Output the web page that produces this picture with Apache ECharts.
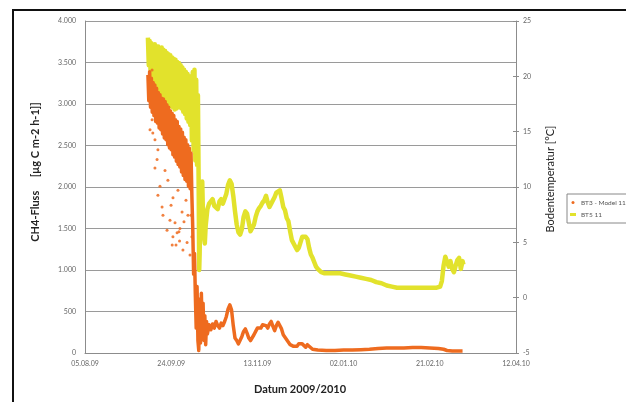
<!DOCTYPE html>
<html>
<head>
<meta charset="utf-8">
<script src="https://cdn.jsdelivr.net/npm/echarts@6/dist/echarts.min.js"></script>
<style>
  html, body { margin: 0; padding: 0; background: #fff; }
  #chart { width: 626px; height: 402px; }
</style>
</head>
<body>
<div id="chart"></div>
<script>
// Zeitachse: Tage ab 05.08.09, Ticks alle 50 Tage
const axisStart = '05.08.09';
const axisEnd = '12.04.10';
const tickDays = 50;

// Linke Achse: CH4-Fluss [µg C m-2 h-1]
const fluxMin = 0, fluxMax = 4000, fluxStep = 500;
// Rechte Achse: Bodentemperatur [°C]
const tempMin = -5, tempMax = 25, tempStep = 5;

const seriesFluxName = 'BT3 - Model 11';
const seriesTempName = 'BT5 11';

// Bodentemperatur (Datum, °C)
const bodentemperatur = [
  ['10.09.09 12',23.5],['11.09.09 00',21.0],['11.09.09 12',23.2],['12.09.09 00',20.6],['12.09.09 12',23.0],
  ['13.09.09 00',20.1],['13.09.09 12',22.8],['14.09.09 00',19.7],['14.09.09 12',22.9],['15.09.09 00',19.4],
  ['15.09.09 12',22.7],['16.09.09 00',19.2],['16.09.09 12',22.7],['17.09.09 00',18.8],['17.09.09 12',22.5],
  ['18.09.09 00',18.3],['18.09.09 12',22.6],['19.09.09 00',18.1],['19.09.09 12',22.4],['20.09.09 00',17.9],
  ['20.09.09 12',22.3],['21.09.09 00',17.7],['21.09.09 12',22.1],['22.09.09 00',17.6],['22.09.09 12',22.0],
  ['23.09.09 00',17.4],['23.09.09 12',21.9],['24.09.09 00',17.3],['24.09.09 12',21.7],['25.09.09 00',17.2],
  ['25.09.09 12',21.6],['26.09.09 00',17.0],['26.09.09 12',21.5],['27.09.09 00',17.1],['27.09.09 12',21.3],
  ['28.09.09 00',17.3],['28.09.09 12',21.2],['29.09.09 00',17.2],['29.09.09 12',21.0],['30.09.09 00',17.1],
  ['30.09.09 12',20.8],['01.10.09 00',16.8],['01.10.09 12',20.6],['02.10.09 00',16.6],['02.10.09 12',20.4],
  ['03.10.09 00',16.2],['03.10.09 12',20.2],['04.10.09 00',15.9],['04.10.09 12',20.0],['05.10.09 00',15.6],
  ['05.10.09 12',19.8],['06.10.09 00',14.2],['06.10.09 12',20.4],['07.10.09 00',13.3],['07.10.09 12',20.6],
  ['08.10.09 00',12.4],['08.10.09 12',19.7],['09.10.09 00',12.0],['09.10.09 12',18.3],['10.10.09 00',8.8],
  ['10.10.09 06',2.5],['10.10.09 12',4.0],['11.10.09 00',9.5],['11.10.09 12',6.0],['12.10.09 00',10.5],
  ['12.10.09 12',7.0],['13.10.09 00',5.5],['13.10.09 12',4.9],['14.10.09 00',6.5],['15.10.09',8.0],
  ['16.10.09',8.5],['17.10.09',8.6],['18.10.09',8.9],['19.10.09',8.3],['20.10.09',8.4],
  ['21.10.09',8.0],['22.10.09',8.7],['23.10.09',8.9],['24.10.09',8.5],['25.10.09',8.6],
  ['26.10.09',9.4],['27.10.09',10.2],['28.10.09',10.6],['29.10.09',10.3],['30.10.09',9.2],
  ['31.10.09',7.8],['01.11.09',6.6],['02.11.09',5.9],['03.11.09',5.7],['04.11.09',6.2],
  ['05.11.09',7.3],['06.11.09',7.8],['07.11.09',7.6],['08.11.09',6.8],['09.11.09',6.0],
  ['10.11.09',5.9],['11.11.09',6.6],['12.11.09',7.3],['13.11.09',7.8],['14.11.09',8.1],
  ['15.11.09',8.3],['16.11.09',8.6],['17.11.09',8.8],['18.11.09',9.2],['19.11.09',8.6],
  ['20.11.09',8.2],['21.11.09',8.5],['22.11.09',8.6],['23.11.09',9.1],['24.11.09',9.5],
  ['25.11.09',9.6],['26.11.09',9.7],['27.11.09',9.0],['28.11.09',8.2],['29.11.09',7.9],
  ['30.11.09',7.2],['01.12.09',6.9],['02.12.09',6.0],['03.12.09',5.2],['04.12.09',4.9],
  ['05.12.09',4.6],['06.12.09',4.3],['07.12.09',4.5],['08.12.09',5.0],['09.12.09',5.5],
  ['10.12.09',5.6],['11.12.09',5.5],['12.12.09',5.3],['13.12.09',4.5],['14.12.09',3.9],
  ['15.12.09',3.6],['16.12.09',3.2],['17.12.09',2.8],['18.12.09',2.6],['20.12.09',2.3],
  ['22.12.09',2.2],['25.12.09',2.2],['28.12.09',2.2],['31.12.09',2.2],['03.01.10',2.1],
  ['06.01.10',2.0],['09.01.10',1.9],['12.01.10',1.8],['15.01.10',1.7],['18.01.10',1.6],
  ['21.01.10',1.4],['24.01.10',1.3],['27.01.10',1.1],['30.01.10',1.0],['02.02.10',0.9],
  ['06.02.10',0.9],['11.02.10',0.9],['16.02.10',0.9],['21.02.10',0.9],['25.02.10',0.9],
  ['27.02.10',1.0],['28.02.10',1.5],['01.03.10',2.9],['02.03.10',3.7],['03.03.10',3.8],
  ['04.03.10',2.8],['05.03.10',3.3],['06.03.10',2.6],['07.03.10',2.3],['08.03.10',2.9],
  ['09.03.10',3.4],['10.03.10',3.6],['11.03.10',2.6],['12.03.10',3.3],['12.03.10 12',3.0]
];

// CH4-Fluss (Datum, µg C m-2 h-1)
const ch4Fluss = [
  ['10.09.09 12',3350],['11.09.09 00',3040],['11.09.09 12',3390],['12.09.09 00',2960],['12.09.09 12',3310],
  ['13.09.09 00',2900],['13.09.09 12',3260],['14.09.09 00',2860],['14.09.09 12',3230],['15.09.09 00',2790],
  ['15.09.09 12',3190],['16.09.09 00',2770],['16.09.09 12',3140],['17.09.09 00',2710],['17.09.09 12',3110],
  ['18.09.09 00',2690],['18.09.09 12',3070],['19.09.09 00',2640],['19.09.09 12',3060],['20.09.09 00',2590],
  ['20.09.09 12',3030],['21.09.09 00',2570],['21.09.09 12',2990],['22.09.09 00',2510],['22.09.09 12',2960],
  ['23.09.09 00',2470],['23.09.09 12',2920],['24.09.09 00',2450],['24.09.09 12',2890],['25.09.09 00',2390],
  ['25.09.09 12',2860],['26.09.09 00',2360],['26.09.09 12',2810],['27.09.09 00',2310],['27.09.09 12',2790],
  ['28.09.09 00',2270],['28.09.09 12',2730],['29.09.09 00',2240],['29.09.09 12',2700],['30.09.09 00',2180],
  ['30.09.09 12',2660],['01.10.09 00',2140],['01.10.09 12',2600],['02.10.09 00',2090],['02.10.09 12',2570],
  ['03.10.09 00',2070],['03.10.09 12',2510],['04.10.09 00',2010],['04.10.09 12',2470],['05.10.09 00',1980],
  ['05.10.09 12',2410],['06.10.09 00',1890],['06.10.09 12',1500],['07.10.09 00',950],['07.10.09 12',1200],
  ['08.10.09 00',700],['08.10.09 12',300],['09.10.09 00',800],['09.10.09 12',150],['10.10.09 00',30],
  ['10.10.09 12',650],['11.10.09 00',120],['11.10.09 12',720],['12.10.09 00',250],['12.10.09 12',600],
  ['13.10.09 00',150],['13.10.09 12',450],['14.10.09 00',100],['14.10.09 12',380],['15.10.09',230],
  ['16.10.09',340],['17.10.09',280],['18.10.09',350],['19.10.09',300],['20.10.09',380],
  ['21.10.09',330],['22.10.09',300],['23.10.09',360],['24.10.09',330],['25.10.09',380],
  ['26.10.09',440],['27.10.09',530],['28.10.09',580],['29.10.09',520],['30.10.09',330],
  ['31.10.09',180],['01.11.09',150],['02.11.09',110],['03.11.09',120],['04.11.09',200],
  ['05.11.09',260],['06.11.09',290],['07.11.09',240],['08.11.09',180],['09.11.09',150],
  ['10.11.09',170],['11.11.09',220],['12.11.09',260],['13.11.09',300],['14.11.09',320],
  ['15.11.09',300],['16.11.09',340],['17.11.09',360],['18.11.09',330],['19.11.09',300],
  ['20.11.09',350],['21.11.09',380],['22.11.09',320],['23.11.09',270],['24.11.09',330],
  ['25.11.09',370],['26.11.09',360],['27.11.09',290],['28.11.09',220],['29.11.09',190],
  ['30.11.09',170],['01.12.09',130],['02.12.09',100],['03.12.09',90],['04.12.09',80],
  ['05.12.09',70],['06.12.09',80],['07.12.09',110],['08.12.09',120],['09.12.09',110],
  ['10.12.09',90],['11.12.09',70],['12.12.09',100],['13.12.09',80],['15.12.09',45],
  ['18.12.09',35],['23.12.09',30],['28.12.09',30],['02.01.10',35],['07.01.10',35],
  ['12.01.10',40],['17.01.10',45],['22.01.10',55],['27.01.10',60],['01.02.10',60],
  ['06.02.10',60],['11.02.10',65],['16.02.10',65],['21.02.10',60],['26.02.10',55],
  ['01.03.10',45],['03.03.10',30],['06.03.10',25],['09.03.10',25],['12.03.10',25]
];

// Einzelne Ausreißer der CH4-Messung
const ch4Einzelwerte = [
  ['11.09.09 17',2690],['12.09.09 22',3410],['14.09.09 14',2230],['16.09.09 07',2450],['17.09.09 12',2010],
  ['18.09.09 17',1760],['20.09.09 10',2200],['22.09.09 02',2080],['23.09.09 07',1600],['25.09.09 00',1400],
  ['25.09.09 01',1870],['26.09.09 05',1570],['27.09.09 22',1960],['29.09.09 02',1500],['30.09.09 07',1700],
  ['30.09.09 19',1240],['02.10.09 14',1840],['03.10.09 17',1660],['04.10.09 22',1180],['06.10.09 00',1400],
  ['07.10.09 05',1020],['24.09.09 14',1300],['27.09.09 10',1450],['28.09.09 20',1350],
  ['16.09.09 07',1900],['19.09.09 05',1660],['21.09.09 14',1480],['23.09.09 22',1780],['26.09.09 19',1300],
  ['28.09.09 12',1460],['01.10.09 10',1580],['03.10.09 05',1330],['05.10.09 12',1660],['14.09.09 14',2570],
  ['12.09.09 22',2810],['15.09.09 19',2330],['11.09.09 04',3300],['13.09.09 08',2650]
];

const DAY = 864e5;
function parseDate(s) {
  const [dmy, hh] = s.split(' ');
  const [dd, mm, yy] = dmy.split('.').map(Number);
  return Date.UTC(2000 + yy, mm - 1, dd, hh ? Number(hh) : 0);
}
const t0 = parseDate(axisStart);
const toDay = s => (parseDate(s) - t0) / DAY;
const pad = n => String(n).padStart(2, '0');
function dayLabel(v) {
  const d = new Date(t0 + v * DAY);
  return pad(d.getUTCDate()) + '.' + pad(d.getUTCMonth() + 1) + '.' + pad(d.getUTCFullYear() % 100);
}
function thousands(v) {
  if (v < 1000) return String(v);
  return Math.floor(v / 1000) + '.' + String(v % 1000).padStart(3, '0');
}

const orange = '#EE6B1F';
const yellow = '#E2E22C';
const labelFont = { fontFamily: 'Lato', fontSize: 7, color: '#666' };

const chart = echarts.init(document.getElementById('chart'), null, { renderer: 'canvas' });
chart.setOption({
  animation: false,
  backgroundColor: '#fff',
  grid: { left: 85, right: 110, top: 21, bottom: 49, containLabel: false },
  legend: {
    left: 567, top: 194, orient: 'vertical',
    itemWidth: 6, itemHeight: 3, itemGap: 5,
    padding: [5, 30, 5, 3],
    borderColor: '#888', borderWidth: 1,
    textStyle: { fontFamily: 'Lato', fontSize: 6.5, color: '#555' },
    data: [
      { name: seriesFluxName, icon: 'circle' },
      { name: seriesTempName, icon: 'rect' }
    ]
  },
  xAxis: {
    type: 'value',
    min: 0, max: toDay(axisEnd), interval: tickDays,
    axisLine: { show: true, lineStyle: { color: '#8c8c8c', width: 1 } },
    axisTick: { show: false },
    splitLine: { show: false },
    axisLabel: { ...labelFont, margin: 7, formatter: dayLabel }
  },
  yAxis: [
    {
      type: 'value', position: 'left',
      min: fluxMin, max: fluxMax, interval: fluxStep,
      axisLine: { show: true, lineStyle: { color: '#8c8c8c', width: 1 } },
      axisTick: { show: false },
      splitLine: { show: true, lineStyle: { color: '#9a9a9a', width: 1 } },
      axisLabel: { ...labelFont, margin: 9, formatter: thousands }
    },
    {
      type: 'value', position: 'right',
      min: tempMin, max: tempMax, interval: tempStep,
      axisLine: { show: true, lineStyle: { color: '#8c8c8c', width: 1 } },
      axisTick: { show: true, length: 3, lineStyle: { color: '#8c8c8c' } },
      splitLine: { show: false },
      axisLabel: { ...labelFont, margin: 7 }
    },
    {
      type: 'value', position: 'right', offset: 0,
      min: tempMin, max: tempMax, interval: tempStep,
      axisLine: { show: false },
      axisTick: { show: true, inside: true, length: 3, lineStyle: { color: '#8c8c8c' } },
      splitLine: { show: false },
      axisLabel: { show: false }
    }
  ],
  series: [
    {
      name: seriesTempName, type: 'line', yAxisIndex: 1,
      data: bodentemperatur.map(([d, v]) => [toDay(d), v]),
      showSymbol: false, color: yellow,
      lineStyle: { color: yellow, width: 4.5, join: 'round' },
      z: 2
    },
    {
      name: seriesFluxName, type: 'line', yAxisIndex: 0,
      data: ch4Fluss.map(([d, v]) => [toDay(d), v]),
      showSymbol: false, color: orange,
      lineStyle: { color: orange, width: 3.5, join: 'round' },
      z: 3
    },
    {
      name: seriesFluxName, type: 'scatter', yAxisIndex: 0,
      data: ch4Einzelwerte.map(([d, v]) => [toDay(d), v]),
      symbol: 'circle', symbolSize: 3, color: orange,
      itemStyle: { color: orange, opacity: 0.85 },
      z: 4
    }
  ],
  graphic: [
    {
      type: 'rect', silent: true, z: 100,
      shape: { x: 13, y: 10, width: 720, height: 500 },
      style: { fill: 'none', stroke: '#111', lineWidth: 2 }
    },
    {
      type: 'text', z: 50, x: 35, y: 172, rotation: Math.PI / 2,
      style: {
        text: 'CH4-Fluss     [µg C m-2 h-1]]',
        font: 'bold 11px Lato', fill: '#222',
        align: 'center', verticalAlign: 'middle'
      }
    },
    {
      type: 'text', z: 50, x: 550, y: 179, rotation: Math.PI / 2,
      style: {
        text: 'Bodentemperatur [°C]',
        font: '11px Lato', fill: '#222',
        align: 'center', verticalAlign: 'middle'
      }
    },
    {
      type: 'text', z: 50, x: 300, y: 389,
      style: {
        text: 'Datum 2009/2010',
        font: 'bold 11px Lato', fill: '#222',
        align: 'center', verticalAlign: 'middle'
      }
    }
  ]
});
</script>
</body>
</html>
